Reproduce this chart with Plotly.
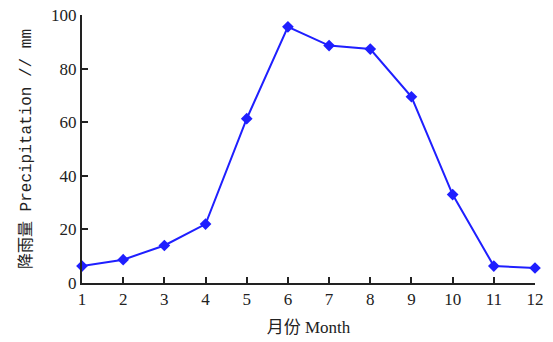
import plotly.graph_objects as go

months = [1, 2, 3, 4, 5, 6, 7, 8, 9, 10, 11, 12]
precip = [6.3, 8.7, 14.0, 22.0, 61.3, 95.6, 88.6, 87.3, 69.5, 33.0, 6.3, 5.6]
x_ticks = [1, 2, 3, 4, 5, 6, 7, 8, 9, 10, 11, 12]
y_ticks = [0, 20, 40, 60, 80, 100]

serif = "Liberation Serif, Noto Sans CJK SC, serif"
mono = "Liberation Mono, Noto Sans CJK SC, monospace"

fig = go.Figure(go.Scatter(
    x=months, y=precip, mode="lines+markers",
    line=dict(color="#1f1fff", width=2),
    marker=dict(symbol="diamond", size=9, color="#1f1fff"),
    cliponaxis=False,
))

fig.update_layout(
    width=553, height=342,
    margin=dict(l=82, r=18, t=15, b=59),
    paper_bgcolor="white", plot_bgcolor="white",
    showlegend=False,
    font=dict(family=serif, color="#222", size=15),
)
fig.update_xaxes(
    range=[1, 12], tickvals=x_ticks, ticks="inside", ticklen=6, tickwidth=1.5,
    tickcolor="#222", showline=True, linecolor="#222", linewidth=2,
    showgrid=False, zeroline=False, automargin=False,
    title=dict(text="月份 Month", font=dict(size=17, family=serif), standoff=13),
    tickfont=dict(size=17),
)
fig.update_yaxes(
    range=[0, 100], tickvals=y_ticks, ticks="inside", ticklen=6, tickwidth=1.5,
    tickcolor="#222", showline=True, linecolor="#222", linewidth=2,
    showgrid=False, zeroline=False, automargin=False,
    title=dict(text="降雨量 Precipitation // mm", font=dict(size=16, family=mono), standoff=15),
    tickfont=dict(size=17),
)

fig.write_html("out.html", config={"displayModeBar": False},
               post_script="document.body.style.margin='0px';")
